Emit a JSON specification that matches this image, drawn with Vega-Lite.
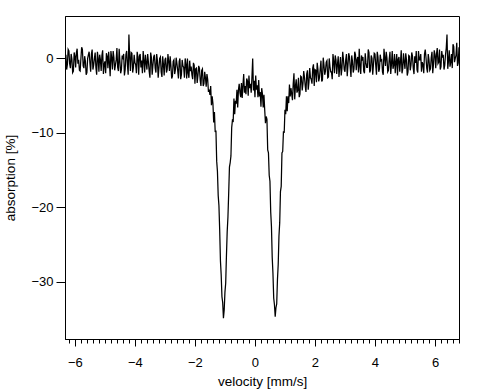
{
  "$schema": "https://vega.github.io/schema/vega-lite/v6.json",
  "width": 394,
  "height": 323,
  "autosize": {"type": "none"},
  "padding": {"left": 65, "top": 16, "right": 29, "bottom": 51},
  "background": "white",
  "config": {
    "view": {"stroke": "black", "strokeWidth": 1},
    "font": "Liberation Sans",
    "axis": {
      "grid": false,
      "domainColor": "black",
      "tickColor": "black",
      "labelColor": "black",
      "titleColor": "black",
      "labelFont": "Liberation Sans",
      "titleFont": "Liberation Sans",
      "labelFontSize": 13,
      "titleFontSize": 13.5,
      "titleFontWeight": "normal"
    }
  },
  "data": {
    "values": [
      {"v": -6.30, "a": 0.5}, {"v": -6.25, "a": -0.8}, {"v": -6.20, "a": 1.0}, {"v": -6.15, "a": -1.3}, {"v": -6.10, "a": -0.1},
      {"v": -6.05, "a": -1.7}, {"v": -6.00, "a": 0.3}, {"v": -5.95, "a": 0.8}, {"v": -5.90, "a": -0.7}, {"v": -5.85, "a": -1.6},
      {"v": -5.80, "a": 0.0}, {"v": -5.75, "a": 1.2}, {"v": -5.70, "a": -1.3}, {"v": -5.65, "a": -0.4}, {"v": -5.60, "a": -1.9},
      {"v": -5.55, "a": 0.5}, {"v": -5.50, "a": -0.6}, {"v": -5.45, "a": 0.6}, {"v": -5.40, "a": -1.5}, {"v": -5.35, "a": 0.0},
      {"v": -5.30, "a": -1.2}, {"v": -5.25, "a": 0.9}, {"v": -5.20, "a": -1.8}, {"v": -5.15, "a": -0.2}, {"v": -5.10, "a": 0.4},
      {"v": -5.05, "a": -2.1}, {"v": -5.00, "a": -0.4}, {"v": -4.95, "a": 0.7}, {"v": -4.90, "a": -1.3}, {"v": -4.85, "a": -0.6},
      {"v": -4.80, "a": 1.0}, {"v": -4.75, "a": -1.5}, {"v": -4.70, "a": 0.1}, {"v": -4.65, "a": -0.9}, {"v": -4.60, "a": 1.4},
      {"v": -4.55, "a": -1.7}, {"v": -4.50, "a": -0.4}, {"v": -4.45, "a": -1.5}, {"v": -4.40, "a": 0.1}, {"v": -4.35, "a": -2.3},
      {"v": -4.30, "a": 0.5}, {"v": -4.25, "a": -0.9}, {"v": -4.20, "a": 3.2}, {"v": -4.15, "a": -1.7}, {"v": -4.10, "a": 0.7},
      {"v": -4.05, "a": -1.2}, {"v": -4.00, "a": -0.6}, {"v": -3.95, "a": -2.0}, {"v": -3.90, "a": 0.2}, {"v": -3.85, "a": 0.3},
      {"v": -3.80, "a": -1.2}, {"v": -3.75, "a": -2.0}, {"v": -3.70, "a": -0.3}, {"v": -3.65, "a": 0.5}, {"v": -3.60, "a": -1.5},
      {"v": -3.55, "a": -0.5}, {"v": -3.50, "a": -2.6}, {"v": -3.45, "a": 0.1}, {"v": -3.40, "a": -0.9}, {"v": -3.35, "a": 0.5},
      {"v": -3.30, "a": -1.9}, {"v": -3.25, "a": -0.3}, {"v": -3.20, "a": -1.3}, {"v": -3.15, "a": 0.2}, {"v": -3.10, "a": -2.5},
      {"v": -3.05, "a": -0.8}, {"v": -3.00, "a": -0.2}, {"v": -2.95, "a": -1.9}, {"v": -2.90, "a": 0.6}, {"v": -2.85, "a": -1.7},
      {"v": -2.80, "a": -1.0}, {"v": -2.75, "a": -2.4}, {"v": -2.70, "a": -0.2}, {"v": -2.65, "a": -1.5}, {"v": -2.60, "a": -0.7},
      {"v": -2.55, "a": -2.7}, {"v": -2.50, "a": 0.0}, {"v": -2.45, "a": -2.2}, {"v": -2.40, "a": -1.0}, {"v": -2.35, "a": -2.6},
      {"v": -2.30, "a": -0.8}, {"v": -2.25, "a": 0.0}, {"v": -2.20, "a": -2.6}, {"v": -2.15, "a": -1.7}, {"v": -2.10, "a": -2.2},
      {"v": -2.05, "a": -0.6}, {"v": -2.00, "a": -3.4}, {"v": -1.95, "a": -1.3}, {"v": -1.90, "a": -2.3}, {"v": -1.85, "a": -1.3},
      {"v": -1.80, "a": -3.7}, {"v": -1.75, "a": -1.4}, {"v": -1.70, "a": -3.4}, {"v": -1.65, "a": -2.6}, {"v": -1.60, "a": -2.1},
      {"v": -1.55, "a": -4.5},
      {"v": -1.500, "a": -4.9}, {"v": -1.475, "a": -3.7}, {"v": -1.450, "a": -6.3}, {"v": -1.425, "a": -5.1}, {"v": -1.400, "a": -6.1},
      {"v": -1.375, "a": -8.6}, {"v": -1.350, "a": -7.2}, {"v": -1.325, "a": -9.9}, {"v": -1.300, "a": -9.7}, {"v": -1.275, "a": -13.8},
      {"v": -1.250, "a": -15.2}, {"v": -1.225, "a": -18.4}, {"v": -1.200, "a": -19.8}, {"v": -1.175, "a": -23.1}, {"v": -1.150, "a": -27.2},
      {"v": -1.125, "a": -29.1}, {"v": -1.100, "a": -32.0}, {"v": -1.075, "a": -32.8}, {"v": -1.050, "a": -34.9}, {"v": -1.025, "a": -33.8},
      {"v": -1.000, "a": -31.4}, {"v": -0.975, "a": -30.2}, {"v": -0.950, "a": -26.5}, {"v": -0.925, "a": -23.3}, {"v": -0.900, "a": -21.3},
      {"v": -0.875, "a": -18.1}, {"v": -0.850, "a": -14.6}, {"v": -0.825, "a": -14.0}, {"v": -0.800, "a": -13.1}, {"v": -0.775, "a": -9.3},
      {"v": -0.750, "a": -8.3}, {"v": -0.725, "a": -8.4}, {"v": -0.700, "a": -5.4}, {"v": -0.675, "a": -7.5}, {"v": -0.650, "a": -5.7},
      {"v": -0.625, "a": -6.1}, {"v": -0.600, "a": -4.2}, {"v": -0.575, "a": -6.6}, {"v": -0.550, "a": -4.2}, {"v": -0.525, "a": -3.4},
      {"v": -0.500, "a": -4.6}, {"v": -0.475, "a": -5.2}, {"v": -0.450, "a": -3.3}, {"v": -0.425, "a": -5.3}, {"v": -0.400, "a": -3.6},
      {"v": -0.375, "a": -2.1}, {"v": -0.350, "a": -4.6}, {"v": -0.325, "a": -3.7}, {"v": -0.300, "a": -4.8}, {"v": -0.275, "a": -2.7},
      {"v": -0.250, "a": -3.0}, {"v": -0.225, "a": -5.0}, {"v": -0.200, "a": -2.3}, {"v": -0.175, "a": -4.0}, {"v": -0.150, "a": -3.4},
      {"v": -0.125, "a": -4.6}, {"v": -0.100, "a": -2.5}, {"v": -0.075, "a": 0.0}, {"v": -0.050, "a": -4.3}, {"v": -0.025, "a": -3.0},
      {"v": 0.000, "a": -5.2}, {"v": 0.025, "a": -2.3}, {"v": 0.050, "a": -4.2}, {"v": 0.075, "a": -3.6}, {"v": 0.100, "a": -5.2},
      {"v": 0.125, "a": -2.9}, {"v": 0.150, "a": -5.1}, {"v": 0.175, "a": -4.5}, {"v": 0.200, "a": -6.5}, {"v": 0.225, "a": -4.0},
      {"v": 0.250, "a": -4.8}, {"v": 0.275, "a": -6.6}, {"v": 0.300, "a": -4.9}, {"v": 0.325, "a": -6.9}, {"v": 0.350, "a": -8.7},
      {"v": 0.375, "a": -7.8}, {"v": 0.400, "a": -8.2}, {"v": 0.425, "a": -12.3}, {"v": 0.450, "a": -12.7}, {"v": 0.475, "a": -15.7},
      {"v": 0.500, "a": -16.5}, {"v": 0.525, "a": -20.6}, {"v": 0.550, "a": -22.6}, {"v": 0.575, "a": -26.7}, {"v": 0.600, "a": -28.9},
      {"v": 0.625, "a": -32.2}, {"v": 0.650, "a": -33.1}, {"v": 0.675, "a": -34.7}, {"v": 0.700, "a": -33.5}, {"v": 0.725, "a": -33.0},
      {"v": 0.750, "a": -29.7}, {"v": 0.775, "a": -27.7}, {"v": 0.800, "a": -23.9}, {"v": 0.825, "a": -22.1}, {"v": 0.850, "a": -17.9},
      {"v": 0.875, "a": -17.2}, {"v": 0.900, "a": -12.7}, {"v": 0.925, "a": -12.5}, {"v": 0.950, "a": -9.8}, {"v": 0.975, "a": -10.0},
      {"v": 1.000, "a": -6.9}, {"v": 1.025, "a": -7.5}, {"v": 1.050, "a": -5.1}, {"v": 1.075, "a": -7.1}, {"v": 1.100, "a": -5.1},
      {"v": 1.125, "a": -6.0}, {"v": 1.150, "a": -3.5}, {"v": 1.175, "a": -5.1}, {"v": 1.200, "a": -4.0},
      {"v": 1.25, "a": -5.6}, {"v": 1.30, "a": -2.0}, {"v": 1.35, "a": -3.7}, {"v": 1.40, "a": -4.6}, {"v": 1.45, "a": -2.6},
      {"v": 1.50, "a": -4.8}, {"v": 1.55, "a": -2.5}, {"v": 1.60, "a": -3.4}, {"v": 1.65, "a": -2.5}, {"v": 1.70, "a": -4.5},
      {"v": 1.75, "a": -1.6}, {"v": 1.80, "a": -3.2}, {"v": 1.85, "a": -2.6}, {"v": 1.90, "a": -3.4}, {"v": 1.95, "a": -0.8},
      {"v": 2.00, "a": -1.5}, {"v": 2.05, "a": -3.2}, {"v": 2.10, "a": -1.5}, {"v": 2.15, "a": -2.6}, {"v": 2.20, "a": -0.3},
      {"v": 2.25, "a": -2.9}, {"v": 2.30, "a": -0.9}, {"v": 2.35, "a": -1.7}, {"v": 2.40, "a": -0.3}, {"v": 2.45, "a": -2.5},
      {"v": 2.50, "a": -1.1}, {"v": 2.55, "a": -1.8}, {"v": 2.60, "a": 0.6}, {"v": 2.65, "a": -2.0}, {"v": 2.70, "a": -0.2},
      {"v": 2.75, "a": -0.8}, {"v": 2.80, "a": -2.5}, {"v": 2.85, "a": 0.2}, {"v": 2.90, "a": -1.3}, {"v": 2.95, "a": -0.2},
      {"v": 3.00, "a": -1.8}, {"v": 3.05, "a": 0.6}, {"v": 3.10, "a": -0.9}, {"v": 3.15, "a": 0.2}, {"v": 3.20, "a": -2.5},
      {"v": 3.25, "a": -0.4}, {"v": 3.30, "a": -1.4}, {"v": 3.35, "a": 0.5}, {"v": 3.40, "a": -0.2}, {"v": 3.45, "a": -1.9},
      {"v": 3.50, "a": -1.1}, {"v": 3.55, "a": 0.4}, {"v": 3.60, "a": 0.2}, {"v": 3.65, "a": -2.0}, {"v": 3.70, "a": -0.6},
      {"v": 3.75, "a": -1.2}, {"v": 3.80, "a": 0.8}, {"v": 3.85, "a": -1.6}, {"v": 3.90, "a": 0.0}, {"v": 3.95, "a": -0.8},
      {"v": 4.00, "a": 0.6}, {"v": 4.05, "a": -2.2}, {"v": 4.10, "a": 0.2}, {"v": 4.15, "a": -1.4}, {"v": 4.20, "a": -0.3},
      {"v": 4.25, "a": -1.8}, {"v": 4.30, "a": 1.3}, {"v": 4.35, "a": -1.0}, {"v": 4.40, "a": 0.0}, {"v": 4.45, "a": -1.6},
      {"v": 4.50, "a": 0.9}, {"v": 4.55, "a": -0.7}, {"v": 4.60, "a": -1.4}, {"v": 4.65, "a": 0.6}, {"v": 4.70, "a": -0.5},
      {"v": 4.75, "a": -2.3}, {"v": 4.80, "a": 0.2}, {"v": 4.85, "a": -0.4}, {"v": 4.90, "a": -2.0}, {"v": 4.95, "a": 0.7},
      {"v": 5.00, "a": -1.4}, {"v": 5.05, "a": -0.2}, {"v": 5.10, "a": -1.8}, {"v": 5.15, "a": 0.3}, {"v": 5.20, "a": -0.9},
      {"v": 5.25, "a": 0.3}, {"v": 5.30, "a": -2.1}, {"v": 5.35, "a": -0.6}, {"v": 5.40, "a": -1.5}, {"v": 5.45, "a": 1.0},
      {"v": 5.50, "a": -0.2}, {"v": 5.55, "a": -1.8}, {"v": 5.60, "a": -0.8}, {"v": 5.65, "a": 0.6}, {"v": 5.70, "a": 0.1},
      {"v": 5.75, "a": -1.9}, {"v": 5.80, "a": -0.2}, {"v": 5.85, "a": -1.4}, {"v": 5.90, "a": 0.9}, {"v": 5.95, "a": -0.8},
      {"v": 6.00, "a": 0.5}, {"v": 6.05, "a": 0.6}, {"v": 6.10, "a": -0.7}, {"v": 6.15, "a": 1.2}, {"v": 6.20, "a": -1.1},
      {"v": 6.25, "a": 0.1}, {"v": 6.30, "a": -1.5}, {"v": 6.35, "a": 0.5}, {"v": 6.40, "a": 3.2}, {"v": 6.45, "a": -0.3},
      {"v": 6.50, "a": -1.1}, {"v": 6.55, "a": 0.6}, {"v": 6.60, "a": 1.9}, {"v": 6.65, "a": -0.5}, {"v": 6.70, "a": 0.4},
      {"v": 6.75, "a": -1.0}, {"v": 6.80, "a": 1.5},
      {"v": -6.275, "a": -1.5}, {"v": -6.225, "a": 1.2}, {"v": -6.175, "a": -0.7}, {"v": -6.125, "a": 0.6}, {"v": -6.075, "a": -1.9},
      {"v": -6.025, "a": 0.8}, {"v": -5.975, "a": -1.2}, {"v": -5.925, "a": 1.3}, {"v": -5.875, "a": -0.2}, {"v": -5.825, "a": -1.7},
      {"v": -5.775, "a": 1.5}, {"v": -5.725, "a": -1.0}, {"v": -5.675, "a": 0.3}, {"v": -5.625, "a": -2.2}, {"v": -5.575, "a": 0.0},
      {"v": -5.525, "a": 0.9}, {"v": -5.475, "a": -1.8}, {"v": -5.425, "a": 1.2}, {"v": -5.375, "a": -0.9}, {"v": -5.325, "a": 0.8},
      {"v": -5.275, "a": -2.2}, {"v": -5.225, "a": 0.0}, {"v": -5.175, "a": 0.5}, {"v": -5.125, "a": -1.7}, {"v": -5.075, "a": 1.1},
      {"v": -5.025, "a": -0.8}, {"v": -4.975, "a": -2.0}, {"v": -4.925, "a": 0.3}, {"v": -4.875, "a": 0.9}, {"v": -4.825, "a": -2.4},
      {"v": -4.775, "a": 0.1}, {"v": -4.725, "a": 1.0}, {"v": -4.675, "a": -1.6}, {"v": -4.625, "a": -0.2}, {"v": -4.575, "a": -1.2},
      {"v": -4.525, "a": 1.3}, {"v": -4.475, "a": -2.0}, {"v": -4.425, "a": 0.4}, {"v": -4.375, "a": 0.6}, {"v": -4.325, "a": -1.5},
      {"v": -4.275, "a": 1.0}, {"v": -4.225, "a": -2.2}, {"v": -4.175, "a": 0.2}, {"v": -4.125, "a": 0.8}, {"v": -4.075, "a": -1.9},
      {"v": -4.025, "a": 0.5}, {"v": -3.975, "a": -0.8}, {"v": -3.925, "a": 0.9}, {"v": -3.875, "a": -2.2}, {"v": -3.825, "a": 0.6},
      {"v": -3.775, "a": -0.3}, {"v": -3.725, "a": 1.0}, {"v": -3.675, "a": -1.9}, {"v": -3.625, "a": -0.6}, {"v": -3.575, "a": 0.6},
      {"v": -3.525, "a": -1.7}, {"v": -3.475, "a": 0.8}, {"v": -3.425, "a": -2.2}, {"v": -3.375, "a": 0.2}, {"v": -3.325, "a": -1.3},
      {"v": -3.275, "a": 0.6}, {"v": -3.225, "a": -2.6}, {"v": -3.175, "a": 0.0}, {"v": -3.125, "a": -1.8}, {"v": -3.075, "a": 0.3},
      {"v": -3.025, "a": -2.3}, {"v": -2.975, "a": 0.1}, {"v": -2.925, "a": -1.5}, {"v": -2.875, "a": -0.4}, {"v": -2.825, "a": 0.3},
      {"v": -2.775, "a": -2.7}, {"v": -2.725, "a": -0.4}, {"v": -2.675, "a": -2.1}, {"v": -2.625, "a": 0.1}, {"v": -2.575, "a": -1.6},
      {"v": -2.525, "a": -0.4}, {"v": -2.475, "a": -2.8}, {"v": -2.425, "a": -0.2}, {"v": -2.375, "a": -1.2}, {"v": -2.325, "a": 0.0},
      {"v": -2.275, "a": -2.7}, {"v": -2.225, "a": -2.0}, {"v": -2.175, "a": -0.3}, {"v": -2.125, "a": -1.1}, {"v": -2.075, "a": -2.8},
      {"v": -2.025, "a": -0.9}, {"v": -1.975, "a": -1.4}, {"v": -1.925, "a": -3.3}, {"v": -1.875, "a": -1.0}, {"v": -1.825, "a": -2.9},
      {"v": -1.775, "a": -1.6}, {"v": -1.725, "a": -3.7}, {"v": -1.675, "a": -1.8}, {"v": -1.625, "a": -3.8}, {"v": -1.575, "a": -2.8},
      {"v": -1.525, "a": -4.2},
      {"v": 1.275, "a": -3.4}, {"v": 1.325, "a": -5.5}, {"v": 1.375, "a": -2.8}, {"v": 1.425, "a": -4.3}, {"v": 1.475, "a": -5.2},
      {"v": 1.525, "a": -2.4}, {"v": 1.575, "a": -4.3}, {"v": 1.625, "a": -1.7}, {"v": 1.675, "a": -3.7}, {"v": 1.725, "a": -2.1},
      {"v": 1.775, "a": -4.2}, {"v": 1.825, "a": -1.3}, {"v": 1.875, "a": -2.8}, {"v": 1.925, "a": -1.3}, {"v": 1.975, "a": -3.7},
      {"v": 2.025, "a": -1.6}, {"v": 2.075, "a": -0.6}, {"v": 2.125, "a": -3.1}, {"v": 2.175, "a": -1.4}, {"v": 2.225, "a": -3.1},
      {"v": 2.275, "a": 0.1}, {"v": 2.325, "a": -2.2}, {"v": 2.375, "a": -0.5}, {"v": 2.425, "a": -2.6}, {"v": 2.475, "a": 0.0},
      {"v": 2.525, "a": -1.8}, {"v": 2.575, "a": -2.8}, {"v": 2.625, "a": -0.4}, {"v": 2.675, "a": 0.4}, {"v": 2.725, "a": -2.1},
      {"v": 2.775, "a": 0.3}, {"v": 2.825, "a": -1.1}, {"v": 2.875, "a": -2.3}, {"v": 2.925, "a": 0.9}, {"v": 2.975, "a": -1.5},
      {"v": 3.025, "a": -0.2}, {"v": 3.075, "a": -2.4}, {"v": 3.125, "a": 0.7}, {"v": 3.175, "a": -1.2}, {"v": 3.225, "a": 0.4},
      {"v": 3.275, "a": -1.9}, {"v": 3.325, "a": 0.9}, {"v": 3.375, "a": -1.6}, {"v": 3.425, "a": 0.2}, {"v": 3.475, "a": 1.3},
      {"v": 3.525, "a": -2.1}, {"v": 3.575, "a": -0.3}, {"v": 3.625, "a": -1.7}, {"v": 3.675, "a": 0.7}, {"v": 3.725, "a": -1.2},
      {"v": 3.775, "a": 1.2}, {"v": 3.825, "a": -1.9}, {"v": 3.875, "a": 0.4}, {"v": 3.925, "a": -2.2}, {"v": 3.975, "a": 0.7},
      {"v": 4.025, "a": -0.9}, {"v": 4.075, "a": 0.9}, {"v": 4.125, "a": -1.8}, {"v": 4.175, "a": 0.5}, {"v": 4.225, "a": -0.2},
      {"v": 4.275, "a": -2.2}, {"v": 4.325, "a": 0.1}, {"v": 4.375, "a": 0.9}, {"v": 4.425, "a": -1.8}, {"v": 4.475, "a": -0.1},
      {"v": 4.525, "a": -2.1}, {"v": 4.575, "a": 1.0}, {"v": 4.625, "a": -0.9}, {"v": 4.675, "a": -2.0}, {"v": 4.725, "a": 0.6},
      {"v": 4.775, "a": -0.1}, {"v": 4.825, "a": -1.8}, {"v": 4.875, "a": 1.1}, {"v": 4.925, "a": -1.4}, {"v": 4.975, "a": -0.5},
      {"v": 5.025, "a": 0.7}, {"v": 5.075, "a": -2.3}, {"v": 5.125, "a": 0.4}, {"v": 5.175, "a": -1.6}, {"v": 5.225, "a": 0.8},
      {"v": 5.275, "a": -1.3}, {"v": 5.325, "a": 0.3}, {"v": 5.375, "a": 1.0}, {"v": 5.425, "a": -1.9}, {"v": 5.475, "a": -0.2},
      {"v": 5.525, "a": 0.6}, {"v": 5.575, "a": -0.5}, {"v": 5.625, "a": -2.0}, {"v": 5.675, "a": 1.2}, {"v": 5.725, "a": -1.3},
      {"v": 5.775, "a": 0.6}, {"v": 5.825, "a": -1.6}, {"v": 5.875, "a": 0.1}, {"v": 5.925, "a": -2.0}, {"v": 5.975, "a": 1.1},
      {"v": 6.025, "a": -1.3}, {"v": 6.075, "a": 1.4}, {"v": 6.125, "a": -0.5}, {"v": 6.175, "a": -1.5}, {"v": 6.225, "a": 1.0},
      {"v": 6.275, "a": 0.5}, {"v": 6.325, "a": -0.9}, {"v": 6.375, "a": 1.4}, {"v": 6.425, "a": -1.4}, {"v": 6.475, "a": 1.1},
      {"v": 6.525, "a": -0.5}, {"v": 6.575, "a": -1.3}, {"v": 6.625, "a": 1.6}, {"v": 6.675, "a": 0.0}, {"v": 6.725, "a": 2.1},
      {"v": 6.775, "a": -0.6}
    ]
  },
  "encoding": {
    "y": {
      "field": "a",
      "type": "quantitative",
      "scale": {"domain": [-37.7, 5.7], "nice": false, "zero": false},
      "axis": {
        "values": [0, -10, -20, -30],
        "tickSize": 9,
        "labelPadding": 3,
        "title": "absorption [%]",
        "titlePadding": 13
      }
    }
  },
  "layer": [
    {
      "mark": {"type": "line", "color": "black", "strokeWidth": 1.25, "clip": true},
      "encoding": {
        "x": {
          "field": "v",
          "type": "quantitative",
          "sort": null,
          "scale": {"domain": [-6.33, 6.8], "nice": false, "zero": false},
          "axis": {
            "values": [-6, -4, -2, 0, 2, 4, 6],
            "tickSize": 7,
            "labelPadding": 10,
            "title": "velocity [mm/s]",
            "titlePadding": 5,
            "orient": "bottom"
          }
        },
        "order": {"field": "v", "type": "quantitative"}
      }
    },
    {
      "mark": {"type": "line", "opacity": 0},
      "encoding": {
        "x": {
          "field": "v",
          "type": "quantitative",
          "scale": {"domain": [-6.33, 6.8], "nice": false, "zero": false},
          "axis": {
            "values": [-6.2, -6, -5.8, -5.6, -5.4, -5.2, -5, -4.8, -4.6, -4.4, -4.2, -4, -3.8, -3.6, -3.4, -3.2, -3, -2.8, -2.6, -2.4, -2.2, -2, -1.8, -1.6, -1.4, -1.2, -1, -0.8, -0.6, -0.4, -0.2, 0, 0.2, 0.4, 0.6, 0.8, 1, 1.2, 1.4, 1.6, 1.8, 2, 2.2, 2.4, 2.6, 2.8, 3, 3.2, 3.4, 3.6, 3.8, 4, 4.2, 4.4, 4.6, 4.8, 5, 5.2, 5.4, 5.6, 5.8, 6, 6.2, 6.4, 6.6, 6.8],
            "labels": false,
            "tickSize": 4,
            "domain": false,
            "title": null,
            "orient": "bottom"
          }
        }
      }
    }
  ],
  "resolve": {"scale": {"x": "independent"}, "axis": {"x": "independent"}}
}
